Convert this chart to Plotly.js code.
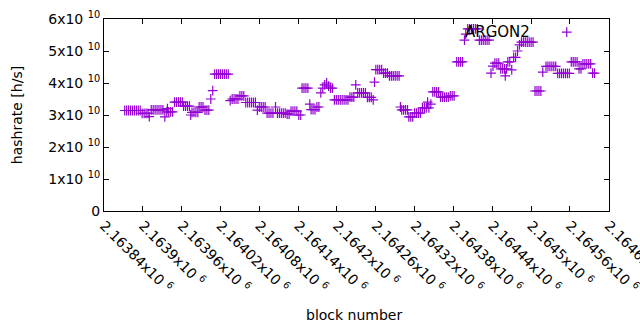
<!DOCTYPE html>
<html>
<head>
<meta charset="utf-8">
<script src="https://cdn.plot.ly/plotly-3.0.1.min.js"></script>
<style>html,body{margin:0;padding:0;background:#fff;}#chart{width:640px;height:330px;}</style>
</head>
<body>
<div id="chart"></div>
<script>
// block numbers (x) and hashrate values in units of 1e10 h/s (y)
const blocks = [
2163872,2163875,2163878,2163881,2163884,2163887,2163890,2163893,2163896,
2163899,2163902,2163905,2163908,2163910,
2163913,2163916,2163919,2163922,2163925,2163928,2163931,2163934,
2163937,2163938,2163940,2163943,2163946,
2163949,2163952,2163955,2163958,2163961,
2163963,2163966,2163969,2163972,2163974,
2163976,2163979,2163982,2163985,
2163987,2163990,2163993,
2163996,2163999,2164002,2164005,2164008,
2164011,2164014,2164017,2164020,2164023,2164026,2164029,2164032,2164035,
2164038,2164041,2164044,2164047,
2164050,2164053,2164056,
2164059,2164062,2164065,2164068,2164071,2164074,2164077,
2164080,2164083,2164086,2164089,
2164092,2164095,2164098,2164101,2164105,
2164108,2164111,2164114,2164117,2164120,
2164123,2164126,
2164129,2164132,2164135,2164138,
2164141,2164144,
2164146,2164149,2164152,2164155,2164158,
2164160,2164163,2164166,
2164169,2164172,
2164175,2164178,2164181,2164184,2164187,2164190,2164193,
2164196,2164199,2164202,2164205,2164208,2164211,2164214,2164217,
2164220,2164223,2164226,2164229,
2164232,2164235,2164238,2164241,2164244,
2164247,2164250,2164253,2164256,2164258,
2164260,2164263,2164266,2164269,
2164272,2164275,2164278,
2164281,2164284,2164287,2164290,2164293,2164296,2164298,
2164300,2164303,2164306,2164309,
2164311,2164314,2164317,
2164320,2164323,2164326,2164329,
2164332,2164335,2164338,2164340,2164342,2164345,
2164348,2164351,2164354,2164357,
2164360,2164363,2164366,2164369,2164372,
2164375,2164378,2164381,
2164385,2164388,2164391,2164394,2164397,2164399,
2164402,2164405,2164408,2164411,2164414,2164417,
2164420,2164423,2164426,2164429,2164432,2164435,2164438,2164441,
2164444,2164447,2164450,
2164453,2164456,2164459,2164460,2164462,
2164464,2164467,2164470,
2164473,2164476,2164479,2164482,
2164485,2164488,2164491,2164494,2164497,2164500,2164503,
2164506,2164509,2164512,2164515,2164518,
2164523,2164526,2164529,2164532,2164535,2164538,
2164541,2164544,2164547,2164550,2164553,2164555,2164556,2164559,
2164562,2164565,2164568,2164571,
2164574,2164577,
2164580,2164583,2164586,2164589,2164592,
2164595,2164598
];
const hashrateE10 = [
3.14,3.14,3.14,3.14,3.14,3.14,3.14,3.14,3.14,
3.05,3.05,3.05,3.05,2.95,
3.16,3.16,3.16,3.16,3.16,3.16,3.16,2.94,
3.10,3.20,3.10,3.10,3.10,
3.40,3.40,3.40,3.40,3.40,
3.28,3.28,3.28,3.28,3.00,
3.08,3.08,3.08,3.08,
3.25,3.25,3.25,
3.15,3.15,3.15,3.50,3.76,
4.28,4.28,4.28,4.28,4.28,4.28,4.28,4.28,3.45,
3.50,3.50,3.50,3.50,
3.60,3.60,3.60,
3.39,3.39,3.39,3.39,3.39,3.39,3.15,
3.25,3.25,3.25,3.25,
3.06,3.06,3.06,3.06,3.25,
3.06,3.06,3.06,3.06,3.06,
3.03,3.03,
3.12,3.12,3.12,3.12,
3.00,3.00,
3.84,3.84,3.84,3.84,3.34,
3.17,3.17,3.17,
3.25,3.25,
3.69,3.84,3.94,4.00,3.90,3.84,3.84,
3.47,3.47,3.47,3.47,3.47,3.47,3.47,3.47,
3.56,3.56,3.56,3.94,
3.69,3.69,3.69,3.69,3.69,
3.55,3.55,3.55,3.47,4.03,
4.42,4.42,4.42,4.42,
4.31,4.31,4.31,
4.22,4.22,4.22,4.22,4.22,4.22,3.25,
3.16,3.16,3.16,3.16,
2.94,2.94,2.94,
3.06,3.06,3.06,3.06,
3.22,3.22,3.22,3.40,3.22,3.34,
3.72,3.72,3.72,3.72,
3.56,3.56,3.56,3.56,3.56,
3.60,3.60,3.60,
4.66,4.66,4.66,4.66,5.34,5.53,
5.69,5.69,5.69,5.69,5.69,5.69,
5.34,5.34,5.34,5.34,5.34,5.34,4.31,4.53,
4.62,4.62,4.62,
4.44,4.44,4.44,4.22,4.44,
4.66,4.66,4.41,
4.80,4.80,5.00,5.19,
5.28,5.28,5.28,5.28,5.28,5.28,5.28,
3.75,3.75,3.75,3.75,4.34,
4.52,4.52,4.52,4.52,4.52,4.52,
4.30,4.30,4.30,4.30,4.30,5.59,4.30,4.30,
4.66,4.66,4.66,4.66,
4.44,4.44,
4.60,4.60,4.60,4.60,4.60,
4.31,4.31
];
const xTickVals = [2163840,2163900,2163960,2164020,2164080,2164140,2164200,2164260,2164320,2164380,2164440,2164500,2164560,2164620];
const xTickMant = ["2.16384","2.1639","2.16396","2.16402","2.16408","2.16414","2.1642","2.16426","2.16432","2.16438","2.16444","2.1645","2.16456","2.16462"];
const yTickVals = [0,1e10,2e10,3e10,4e10,5e10,6e10];
const yTickMant = ["0","1","2","3","4","5","6"];
const seriesName = "ARGON2";

const trace = {
  x: blocks,
  y: hashrateE10.map(v => v * 1e10),
  type: "scatter",
  mode: "markers",
  name: seriesName,
  marker: {symbol: "cross-thin-open", size: 7, color: "#9400D3", line: {color: "#9400D3", width: 1.2}},
  hoverinfo: "skip",
  cliponaxis: false
};

const font = {family: "DejaVu Sans", size: 14, color: "#000"};
const layout = {
  width: 640, height: 330,
  margin: {l: 104, r: 31, t: 19, b: 119, pad: 0},
  paper_bgcolor: "#fff", plot_bgcolor: "#fff",
  showlegend: false,
  font: font,
  xaxis: {
    range: [2163840, 2164620.3], tickmode: "array", tickvals: xTickVals,
    ticktext: xTickMant.map(m => m + "x10 <sup>6</sup>"),
    tickangle: 45, ticks: "inside", ticklen: 5, tickcolor: "#000",
    ticklabeloverflow: "allow",
    showline: true, linecolor: "#000", linewidth: 1, mirror: "allticks",
    showgrid: false, zeroline: false, automargin: false, tickfont: font
  },
  yaxis: {
    range: [0, 6e10], tickmode: "array", tickvals: yTickVals,
    ticktext: yTickMant.map(m => m === "0" ? "0" : m + "x10 <sup>10</sup>"),
    ticks: "inside", ticklen: 5, tickcolor: "#000",
    showline: true, linecolor: "#000", linewidth: 1, mirror: "allticks",
    showgrid: false, zeroline: false, automargin: false, tickfont: font
  },
  annotations: [
    {text: seriesName, xref: "paper", yref: "paper", x: 0.78, y: 0.932, xanchor: "center", yanchor: "middle", showarrow: false, font: {family: "DejaVu Sans", size: 15, color: "#000"}},
    {text: "hashrate [h/s]", xref: "paper", yref: "paper", x: -0.172, y: 0.5, xanchor: "center", yanchor: "middle", textangle: -90, showarrow: false, font: font},
    {text: "block number", xref: "paper", yref: "paper", x: 0.495, y: -0.542, xanchor: "center", yanchor: "middle", showarrow: false, font: font}
  ]
};
Plotly.newPlot("chart", [trace], layout, {staticPlot: true, displayModeBar: false});
</script>
</body>
</html>
